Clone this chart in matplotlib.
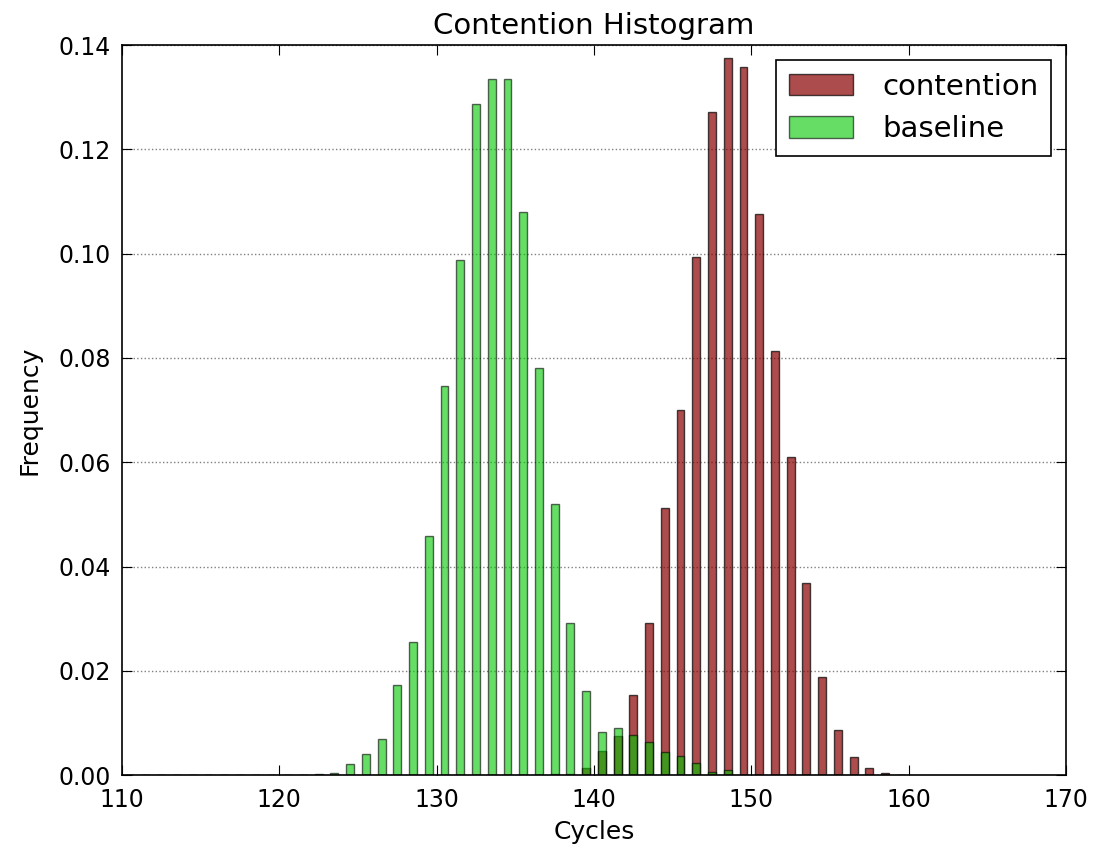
import numpy as np
import matplotlib
matplotlib.use('Agg')
import matplotlib.pyplot as plt

# bin left edges (width 1), frequencies
bins = list(range(110, 160))

baseline_bins = list(range(122, 149))
baseline_freq = [0.0002, 0.0005, 0.0022, 0.0040, 0.0070, 0.0172, 0.0256, 0.0458,
                 0.0747, 0.0987, 0.1287, 0.1335, 0.1335, 0.1080, 0.0780, 0.0520,
                 0.0291, 0.0162, 0.0083, 0.0090, 0.0077, 0.0063, 0.0045, 0.0036,
                 0.0024, 0.0006, 0.0010]

contention_bins = list(range(137, 159))
contention_freq = [0.0002, 0.0003, 0.0014, 0.0046, 0.0075, 0.0153, 0.0291, 0.0513,
                   0.0700, 0.0993, 0.1272, 0.1375, 0.1358, 0.1077, 0.0813, 0.0610,
                   0.0368, 0.0189, 0.0086, 0.0034, 0.0014, 0.0004]


def fill(bin_list, freq):
    h = np.zeros(len(bins))
    for b, f in zip(bin_list, freq):
        h[bins.index(b)] = f
    return h


cont = fill(contention_bins, contention_freq)
base = fill(baseline_bins, baseline_freq)
centers = np.array(bins) + 0.5

fig = plt.figure(figsize=(11.02, 8.5), dpi=100)
ax = fig.add_axes([0.1107, 0.088, 0.8566, 0.859])

ax.bar(centers, cont, width=0.5, color='darkred', alpha=0.7,
       edgecolor='black', linewidth=1.0, label='contention')
ax.bar(centers, base, width=0.5, color='#00c800', alpha=0.6,
       edgecolor='black', linewidth=1.0, label='baseline')

ax.set_xlim(110, 170)
ax.set_ylim(0, 0.14)
ax.set_yticks(np.arange(0, 0.141, 0.02))
ax.yaxis.grid(True, linestyle=':', color='gray', linewidth=1)
ax.set_axisbelow(True)

ax.tick_params(direction='in', top=True, right=True, labelsize=17, length=7)
ax.tick_params(axis='x', pad=9)
ax.tick_params(axis='y', pad=8)
for s in ax.spines.values():
    s.set_linewidth(1.2)

ax.set_title('Contention Histogram', fontsize=21, pad=8)
ax.set_xlabel('Cycles', fontsize=18, labelpad=6)
ax.set_ylabel('Frequency', fontsize=18, labelpad=12)

leg = ax.legend(loc='upper right', fontsize=21, fancybox=False, framealpha=1,
                edgecolor='black', handlelength=2.2, handleheight=0.75,
                borderpad=0.45, handletextpad=1.0, borderaxespad=0.5)
leg.get_frame().set_linewidth(1.2)

fig.savefig('out.png', dpi=100)
